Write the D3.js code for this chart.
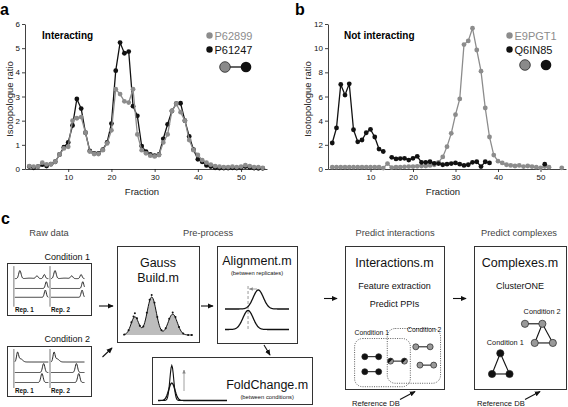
<!DOCTYPE html>
<html><head><meta charset="utf-8">
<script src="https://cdn.jsdelivr.net/npm/d3@7"></script>
<style>
body{margin:0;background:#fff;}
svg{display:block;font-family:"Liberation Sans",Arial,Helvetica,sans-serif;}
</style></head><body>
<svg id="fig" width="568" height="407"></svg>
<script>
// ---------------- data ----------------
const fractions = d3.range(1, 56);
const xTicks = [10, 20, 30, 40, 50];
const aYTicks = [0, 1, 2, 3, 4, 5, 6];
const bYTicks = [0, 2, 4, 6, 8, 10, 12];
const aNames = ["P62899", "P61247"];
const bNames = ["E9PGT1", "Q6IN85"];
const aTitle = "Interacting";
const bTitle = "Not interacting";
const aGray = [0.12,0.10,0.10,0.26,0.19,0.20,0.30,0.60,0.85,0.92,
  2.00,2.10,2.15,1.50,0.72,0.62,0.62,0.78,1.06,1.60,
  3.30,3.10,2.80,2.75,3.30,1.43,0.78,0.65,0.55,0.52,
  0.58,1.10,1.43,2.40,2.70,2.35,2.00,1.20,0.78,0.58,
  0.37,0.26,0.18,0.12,0.10,0.08,0.08,0.10,0.08,0.10,
  0.16,0.12,0.08,0.08,0.05];
const aBlack = [0.10,0.05,0.10,0.18,0.12,0.20,0.30,0.60,0.90,1.10,
  1.80,2.90,2.50,1.50,0.75,0.65,0.65,0.80,1.10,1.88,
  4.07,5.23,4.79,4.86,2.60,2.20,0.95,0.72,0.60,0.55,
  0.60,1.25,1.85,2.40,2.70,2.72,2.00,1.35,0.80,0.40,
  0.30,0.15,0.10,0.05,0.04,0.04,0.04,0.05,0.04,0.05,
  0.10,0.06,0.04,0.03,0.03];
const bGray = [0.15,0.15,0.15,0.15,0.15,0.15,0.15,0.15,0.15,0.15,
  0.15,0.15,0.08,0.45,0.12,0.15,0.15,0.18,0.20,0.20,
  0.22,0.25,0.25,0.30,0.35,0.55,1.00,1.85,2.95,4.50,
  5.80,10.30,10.60,11.65,9.85,8.10,5.05,2.65,1.15,0.65,
  0.50,0.35,0.30,0.25,0.30,0.20,0.25,0.20,0.15,0.10,
  0.20,0.15,null,null,0.10];
const bBlack = [2.15,3.40,7.00,6.12,7.05,3.25,2.25,2.40,3.00,3.28,
  2.65,1.65,1.45,null,0.97,0.83,0.86,0.88,0.74,0.88,
  1.05,0.55,0.55,0.60,0.47,0.45,0.35,0.40,0.45,0.50,
  0.40,0.30,0.35,0.55,0.60,0.20,0.60,0.50,null,null,
  null,null,null,null,null,null,null,null,null,null,
  0.40,null,null,null,null];

// panel c schematic content
const stageTitles = ["Raw data", "Pre-process", "Predict interactions", "Predict complexes"];
const conditionNames = ["Condition 1", "Condition 2"];
const repNames = ["Rep. 1", "Rep. 2"];
// [centre, relative height, width] per peak, in relative units
const rawPeaks = [
  [ [ [[0.15,0.9,0.035],[0.45,0.05,0.1],[0.66,0.3,0.035],[0.88,0.45,0.03]], [[0.94,0.75,0.03]], [[0.91,0.8,0.03]] ],
    [ [[0.12,0.9,0.035],[0.42,0.05,0.1],[0.62,0.3,0.035],[0.9,0.45,0.03]], [[0.95,0.75,0.03]], [[0.93,0.8,0.03]] ] ],
  [ [ [[0.08,1.0,0.03],[0.17,0.35,0.06]], [[0.86,1.0,0.035]], [[0.81,1.0,0.035]] ],
    [ [[0.09,1.0,0.03],[0.18,0.35,0.06]], [[0.76,1.0,0.035]], [[0.83,1.0,0.035]] ] ]
];
const gaussPeaks = [[0.17,0.48,0.055],[0.41,1.0,0.065],[0.71,0.55,0.065]];
const gaussDotT = [0.02,0.08,0.12,0.15,0.17,0.2,0.24,0.29,0.34,0.38,0.41,0.45,0.49,0.55,0.61,0.66,0.71,0.75,0.8,0.86,0.93,0.98];
const gaussDotLift = [0,0,0.02,0.04,0.09,0.02,0,0,0.02,0.03,0.05,0.02,0,0,0,0.02,0.04,0.02,0,0,0,0];
const alignPeaks = [[[0.52,1,0.08]], [[0.36,1,0.08]]];
const foldPeaks = [[[0.2,1,0.028]], [[0.2,0.5,0.045]]];
const interTexts = ["Interactions.m", "Feature extraction", "Predict PPIs"];
const complexTexts = ["Complexes.m", "ClusterONE"];
const interNodes = [
  {x:0.2,y:0.774,k:"b"},{x:0.34,y:0.774,k:"b"},
  {x:0.2,y:0.879,k:"b"},{x:0.34,y:0.879,k:"b"},
  {x:0.46,y:0.805,k:"m"},{x:0.6,y:0.805,k:"m"},
  {x:0.715,y:0.705,k:"g"},{x:0.86,y:0.705,k:"g"},
  {x:0.757,y:0.833,k:"g"},{x:0.896,y:0.833,k:"g"}];
const interEdges = [[0,1],[2,3],[4,5],[6,7],[8,9]];
const complexNodes = [
  {x:0.554,y:0.544,k:"g"},{x:0.743,y:0.544,k:"g"},{x:0.66,y:0.678,k:"g"},{x:0.857,y:0.678,k:"g"},
  {x:0.286,y:0.75,k:"b"},{x:0.196,y:0.895,k:"b"},{x:0.386,y:0.895,k:"b"}];
const complexEdges = [[0,1],[1,2],[1,3],[2,3],[4,5],[4,6],[5,6]];

// ---------------- drawing ----------------
const svg = d3.select("#fig");
const GRAY = "#8c8c8c", BLACK = "#111";

function drawPanel(cfg) {
  const g = svg.append("g");
  const x = d3.scaleLinear().domain([0, 56]).range([cfg.left, cfg.right]);
  const y = d3.scaleLinear().domain([0, cfg.yMax]).range([169, 24]);
  const ya = g.append("g").attr("transform", `translate(${cfg.left},0)`)
    .call(d3.axisLeft(y).tickValues(cfg.yTicks).tickFormat(d3.format("d")).tickSize(3).tickSizeOuter(0).tickPadding(2));
  const xa = g.append("g").attr("transform", "translate(0,169)")
    .call(d3.axisBottom(x).tickValues(xTicks).tickFormat(d3.format("d")).tickSize(3).tickSizeOuter(0).tickPadding(2));
  [ya, xa].forEach(a => {
    a.selectAll("text").attr("font-size", 8).attr("fill", "#111").attr("font-family", "Liberation Sans, Arial, sans-serif");
    a.selectAll("path,line").attr("stroke", "#111").attr("stroke-width", 0.8);
  });
  g.append("text").attr("x", (cfg.left + cfg.right) / 2 - 4).attr("y", 195)
    .attr("text-anchor", "middle").attr("font-size", 9.5).attr("fill", "#222").text("Fraction");
  g.append("text").attr("transform", `translate(${cfg.yLabX},99) rotate(-90)`)
    .attr("text-anchor", "middle").attr("font-size", 9.5).attr("fill", "#222").text("Isotopologue ratio");
  g.append("text").attr("x", cfg.letterX).attr("y", 15).attr("font-size", 16).attr("font-weight", "bold").text(cfg.letter);
  g.append("text").attr("x", cfg.titleX).attr("y", 38.5).attr("font-size", 10).attr("font-weight", "bold").text(cfg.title);

  const line = d3.line().defined(d => d.v != null).x(d => x(d.f)).y(d => y(d.v));
  cfg.series.forEach(s => {
    const pts = fractions.map((f, i) => ({f, v: s.values[i]}));
    g.append("path").attr("d", line(pts)).attr("fill", "none").attr("stroke", s.color).attr("stroke-width", 1.3);
    g.selectAll(null).data(pts.filter(d => d.v != null)).enter().append("circle")
      .attr("cx", d => x(d.f)).attr("cy", d => y(d.v)).attr("r", 2.4).attr("fill", s.color);
  });
  // legend
  cfg.names.forEach((n, i) => {
    const c = i === 0 ? GRAY : BLACK;
    g.append("circle").attr("cx", cfg.legX).attr("cy", 35.5 + i * 14).attr("r", 3.2).attr("fill", c);
    g.append("text").attr("x", cfg.legX + 5).attr("y", 39.5 + i * 14).attr("font-size", 11).attr("fill", c).text(n);
  });
  if (cfg.linked) g.append("line").attr("x1", cfg.iconX).attr("x2", cfg.iconX + 21).attr("y1", cfg.iconY).attr("y2", cfg.iconY).attr("stroke", "#111").attr("stroke-width", 1.3);
  g.append("circle").attr("cx", cfg.iconX).attr("cy", cfg.iconY).attr("r", 5.3).attr("fill", "#8a8a8a").attr("stroke", "#222").attr("stroke-width", 0.8);
  g.append("circle").attr("cx", cfg.iconX + 21).attr("cy", cfg.iconY).attr("r", 5.3).attr("fill", "#111");
}

drawPanel({left: 25, right: 267, yMax: 6, yTicks: aYTicks, letter: "a", letterX: 0, title: aTitle, titleX: 42, yLabX: 13,
  series: [{values: aBlack, color: BLACK}, {values: aGray, color: GRAY}], names: aNames, legX: 209.5,
  iconX: 225, iconY: 67, linked: true});
drawPanel({left: 328, right: 566, yMax: 12, yTicks: bYTicks, letter: "b", letterX: 295, title: bTitle, titleX: 344, yLabX: 310.5,
  series: [{values: bGray, color: GRAY}, {values: bBlack, color: BLACK}], names: bNames, legX: 509.5,
  iconX: 525, iconY: 65, linked: false});

// ---------- panel c ----------
const c = svg.append("g");
c.append("text").attr("x", 1).attr("y", 224).attr("font-size", 16).attr("font-weight", "bold").text("c");

const defs = svg.append("defs");
defs.append("marker").attr("id", "ah").attr("viewBox", "0 0 8 8").attr("refX", 7).attr("refY", 4)
  .attr("markerWidth", 6).attr("markerHeight", 6).attr("markerUnits", "userSpaceOnUse").attr("orient", "auto")
  .append("path").attr("d", "M0,0.5 L8,4 L0,7.5 Z").attr("fill", "#111");
defs.append("marker").attr("id", "ahg").attr("viewBox", "0 0 8 8").attr("refX", 7).attr("refY", 4)
  .attr("markerWidth", 4).attr("markerHeight", 4).attr("markerUnits", "userSpaceOnUse").attr("orient", "auto")
  .append("path").attr("d", "M0,0.5 L8,4 L0,7.5 Z").attr("fill", "#888");

function arrow(x1, y1, x2, y2, grey) {
  c.append("line").attr("x1", x1).attr("y1", y1).attr("x2", x2).attr("y2", y2)
    .attr("stroke", grey ? "#888" : "#111").attr("stroke-width", grey ? 0.8 : 1.1)
    .attr("marker-end", grey ? "url(#ahg)" : "url(#ah)");
}
function rect(b) {
  c.append("rect").attr("x", b.x + 0.5).attr("y", b.y + 0.5).attr("width", b.w).attr("height", b.h)
    .attr("fill", "#fff").attr("stroke", "#333").attr("stroke-width", 1);
}
function txt(x, y, s, size, opts = {}) {
  const t = c.append("text").attr("x", x).attr("y", y).attr("font-size", size)
    .attr("text-anchor", opts.anchor || "middle").attr("fill", opts.fill || "#111").text(s);
  if (opts.bold) t.attr("font-weight", "bold");
  return t;
}
function peakPts(peaks, x0, x1, base, amp) {
  const xs = d3.scaleLinear([0, 1], [x0, x1]);
  return d3.range(0, 1.0001, 0.01).map(t => [xs(t), base - amp * d3.sum(peaks, p => p[1] * Math.exp(-((t - p[0]) ** 2) / (2 * p[2] ** 2)))]);
}
function peakPath(peaks, x0, x1, base, amp, stroke, sw) {
  return c.append("path").attr("d", d3.line()(peakPts(peaks, x0, x1, base, amp)))
    .attr("fill", "none").attr("stroke", stroke || "#111").attr("stroke-width", sw || 1);
}

// stage titles
const stageX = [49, 208, 395, 519];
stageTitles.forEach((s, i) => txt(stageX[i], 236, s, 9.3, {fill: "#444"}));

// raw data boxes
const condBoxes = [{x: 7, y: 263, w: 84, h: 52}, {x: 7, y: 346, w: 84, h: 50}];
const traceLevels = [[0.3, 0.49, 0.66], [0.32, 0.53, 0.73]];
const condLabelY = [260, 342];
condBoxes.forEach((b, ci) => {
  rect(b);
  txt(b.x + b.w - 1, condLabelY[ci], conditionNames[ci], 9, {anchor: "end"});
  [0.07, 0.5].forEach((sx, ri) => {
    const ax = b.x + b.w * sx + 1;
    c.append("line").attr("x1", ax).attr("x2", ax).attr("y1", b.y + b.h * 0.06).attr("y2", b.y + b.h * 0.84)
      .attr("stroke", "#555").attr("stroke-width", 0.8);
    rawPeaks[ci][ri].forEach((pk, ti) => {
      peakPath(pk, ax + 1, ax + b.w * 0.41, b.y + b.h * traceLevels[ci][ti], 9, "#111", 0.9);
    });
    txt(ax + 1, b.y + b.h * 0.94, repNames[ri], 6.3, {anchor: "start", bold: true});
  });
});
arrow(99, 306, 113, 306);
arrow(102.5, 357, 112, 348);

// Gauss Build box
const gb = {x: 117, y: 246, w: 82, h: 96};
rect(gb);
txt(gb.x + gb.w / 2, 267, "Gauss", 12.5);
txt(gb.x + gb.w / 2, 281.5, "Build.m", 12.5);
const gpts = peakPts(gaussPeaks, 123, 193, 335, 38);
c.append("path").attr("d", d3.area().y0(335)(gpts)).attr("fill", "#bdbdbd").attr("stroke", "none");
c.append("path").attr("d", d3.line()(gpts)).attr("fill", "none").attr("stroke", "#111").attr("stroke-width", 1);
const gx = d3.scaleLinear([0, 1], [123, 193]);
gaussDotT.forEach((t, i) => {
  const v = d3.sum(gaussPeaks, p => p[1] * Math.exp(-((t - p[0]) ** 2) / (2 * p[2] ** 2)));
  c.append("circle").attr("cx", gx(t)).attr("cy", 335 - 38 * (v + gaussDotLift[i])).attr("r", 1).attr("fill", "#111");
});
arrow(201, 306, 213, 306);

// Alignment box
const al = {x: 217, y: 246, w: 80, h: 97};
rect(al);
txt(al.x + al.w / 2, 264.5, "Alignment.m", 12.5);
txt(al.x + al.w / 2, 275, "(between replicates)", 5.8);
const alx0 = al.x + 0.1 * al.w, alx1 = al.x + 0.9 * al.w;
c.append("line").attr("x1", alx0 + 0.36 * (alx1 - alx0)).attr("x2", alx0 + 0.36 * (alx1 - alx0))
  .attr("y1", 286).attr("y2", 331).attr("stroke", "#999").attr("stroke-width", 1).attr("stroke-dasharray", "3,2");
peakPath(alignPeaks[0], alx0, alx1, 309, 19, "#111", 1.3);
peakPath(alignPeaks[1], alx0, alx1, 329.5, 19, "#111", 1.3);
arrow(alx0 + 0.5 * (alx1 - alx0), 289, alx0 + 0.38 * (alx1 - alx0), 289, true);
arrow(264, 345, 270, 355);

// FoldChange box
const fc = {x: 152, y: 357, w: 160, h: 47};
rect(fc);
peakPath(foldPeaks[0], 158, 227, 400.5, 35, "#111", 1.1);
peakPath(foldPeaks[1], 158, 227, 400.5, 35, "#111", 1.3);
arrow(184, 391, 184, 370, true);
txt(fc.x + fc.w * 0.72, 388.5, "FoldChange.m", 12.5);
txt(fc.x + fc.w * 0.72, 399, "(between conditions)", 5.8);

// Interactions box
const ib = {x: 345, y: 246, w: 99, h: 143};
rect(ib);
arrow(324, 298.5, 337, 298.5);
txt(ib.x + ib.w / 2, 267, interTexts[0], 12.5);
txt(ib.x + ib.w / 2, 288.5, interTexts[1], 9);
txt(ib.x + ib.w / 2, 307, interTexts[2], 9);
const ix = d3.scaleLinear([0, 1], [ib.x, ib.x + ib.w]);
const iy = d3.scaleLinear([0, 1], [ib.y, ib.y + ib.h]);
c.append("rect").attr("x", ix(0.097)).attr("y", iy(0.647)).attr("width", ix(0.66) - ix(0.097)).attr("height", iy(0.984) - iy(0.647))
  .attr("rx", 8).attr("fill", "none").attr("stroke", "#333").attr("stroke-width", 0.8).attr("stroke-dasharray", "1,1.3");
c.append("rect").attr("x", ix(0.427)).attr("y", iy(0.577)).attr("width", ix(0.965) - ix(0.427)).attr("height", iy(0.96) - iy(0.577))
  .attr("rx", 8).attr("fill", "none").attr("stroke", "#333").attr("stroke-width", 0.8).attr("stroke-dasharray", "1,1.3");
txt(ix(0.27), iy(0.623), conditionNames[0], 6.8);
txt(ix(0.8), iy(0.6), conditionNames[1], 6.8);
interEdges.forEach(([a, b]) => c.append("line").attr("x1", ix(interNodes[a].x)).attr("y1", iy(interNodes[a].y))
  .attr("x2", ix(interNodes[b].x)).attr("y2", iy(interNodes[b].y)).attr("stroke", "#111").attr("stroke-width", 1));
function node(cx, cy, r, k) {
  if (k === "m") {
    c.append("circle").attr("cx", cx).attr("cy", cy).attr("r", r).attr("fill", "#999").attr("stroke", "#222").attr("stroke-width", 0.7);
    c.append("path").attr("d", `M${cx - r * 0.7},${cy + r * 0.7} A${r},${r} 0 0 1 ${cx + r * 0.7},${cy - r * 0.7} Z`).attr("fill", "#111");
  } else {
    c.append("circle").attr("cx", cx).attr("cy", cy).attr("r", r)
      .attr("fill", k === "b" ? "#111" : "#999").attr("stroke", "#222").attr("stroke-width", 0.7);
  }
}
interNodes.forEach(n => node(ix(n.x), iy(n.y), 3, n.k));

// Complexes box
const cb = {x: 474, y: 246, w: 92, h: 143};
rect(cb);
arrow(453, 298.5, 466, 298.5);
const cx_ = d3.scaleLinear([0, 1], [cb.x, cb.x + cb.w]);
const cy_ = d3.scaleLinear([0, 1], [cb.y, cb.y + cb.h]);
txt(cb.x + cb.w / 2, 267, complexTexts[0], 12.5);
txt(cb.x + cb.w / 2, 289, complexTexts[1], 9);
txt(cx_(0.74), cy_(0.474), conditionNames[1], 7.3);
txt(cx_(0.34), cy_(0.69), conditionNames[0], 7.3);
complexEdges.forEach(([a, b]) => c.append("line").attr("x1", cx_(complexNodes[a].x)).attr("y1", cy_(complexNodes[a].y))
  .attr("x2", cx_(complexNodes[b].x)).attr("y2", cy_(complexNodes[b].y)).attr("stroke", "#111").attr("stroke-width", 1.1));
complexNodes.forEach(n => node(cx_(n.x), cy_(n.y), 3.6, n.k));

// Reference DB
txt(352, 405.5, "Reference DB", 7.6, {anchor: "start"});
arrow(400, 399.5, 415, 391.5);
txt(477, 405.5, "Reference DB", 7.6, {anchor: "start"});
arrow(525, 399.5, 540, 391.5);
</script>
</body></html>
